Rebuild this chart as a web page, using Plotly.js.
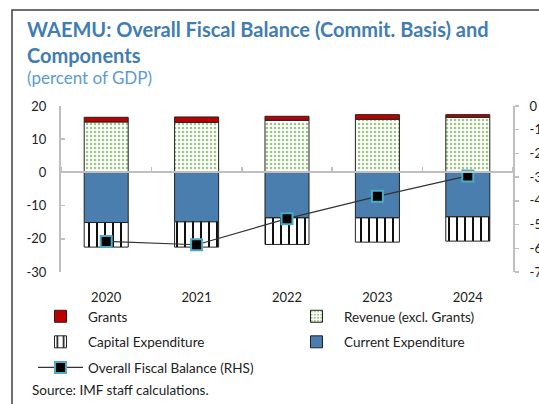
<!DOCTYPE html>
<html><head><meta charset="utf-8">
<script src="https://cdn.plot.ly/plotly-3.0.1.min.js"></script>
<style>html,body{margin:0;padding:0;background:#fff;}#chart{width:539px;height:404px;}</style>
</head><body><div id="chart"></div>
<script>
const years = ['2020','2021','2022','2023','2024'];
const grants = [1.4, 1.6, 1.2, 1.4, 0.8];
const revenue = [15.2, 15.1, 15.7, 16.0, 16.6];
const currentExp = [-15.1, -14.9, -13.7, -13.7, -13.4];
const capitalExp = [-7.4, -7.6, -8.0, -7.3, -7.3];
const balance = [-5.71, -5.85, -4.75, -3.81, -2.95];
const lhsTicks = [20, 10, 0, -10, -20, -30];
const lhsTickLabels = ['20', '10', '0', '-10', '-20', '-30'];
const rhsTicks = [0, -1, -2, -3, -4, -5, -6, -7];
const rhsTickLabels = ['0', '-1', '-2', '-3', '-4', '-5', '-6', '-7'];

const FONT = 'Lato, "Open Sans", sans-serif';
const traces = [
  {type:'bar', name:'Revenue (excl. Grants)', x:years, y:revenue, legend:'legend2', legendgroup:'rev', legendrank:1,
   marker:{color:'#ffffff', line:{color:'#222', width:1},
     pattern:{shape:'.', fgcolor:'#9cc77f', bgcolor:'#ffffff', size:4, solidity:0.3, fillmode:'replace'}}},
  {type:'bar', name:'Grants', x:years, y:grants, legend:'legend', legendgroup:'gr', legendrank:1,
   marker:{color:'#c00000', line:{color:'#222', width:1}}},
  {type:'bar', name:'Current Expenditure', x:years, y:currentExp, legend:'legend2', legendgroup:'cur', legendrank:2,
   marker:{color:'#4a7eae', line:{color:'#222', width:1}}},
  {type:'bar', name:'Capital Expenditure', x:years, y:capitalExp, legend:'legend', legendgroup:'cap', legendrank:2,
   marker:{color:'#ffffff', line:{color:'#222', width:1},
     pattern:{shape:'|', fgcolor:'#111', bgcolor:'#ffffff', size:8, solidity:0.25, fillmode:'replace'}}},
  {type:'scatter', mode:'lines+markers', name:'Overall Fiscal Balance (RHS)', x:years, y:balance,
   xaxis:'x2', yaxis:'y2', legend:'legend', legendgroup:'bal', legendrank:3,
   line:{color:'#333', width:1.2},
   marker:{symbol:'square', size:11, color:'#000', line:{color:'#4bacc6', width:2}}}
];

const legendBase = {orientation:'v', xanchor:'left', yanchor:'top', xref:'container', yref:'container',
  itemwidth:45, tracegroupgap:5, font:{family:FONT, size:13.5, color:'#222'}, bgcolor:'rgba(0,0,0,0)',
  traceorder:'grouped'};

const layout = {
  width:539, height:404,
  margin:{l:61, r:26, t:106, b:132, autoexpand:false},
  paper_bgcolor:'#fff', plot_bgcolor:'rgba(0,0,0,0)',
  font:{family:FONT, size:13, color:'#222'},
  barmode:'relative', bargap:0.513,
  showlegend:true,
  xaxis:{type:'category', showline:false, ticks:'', showgrid:false, zeroline:false, automargin:false,
    tickfont:{size:13, color:'#222'}, ticklabelstandoff:16},
  xaxis2:{type:'category', overlaying:'x', anchor:'free', position:0.6, side:'top', automargin:false,
    range:[-0.5,4.5], showline:true, linecolor:'#bfbfbf', linewidth:2,
    ticks:'outside', tickson:'boundaries', ticklen:4, tickcolor:'#bfbfbf', tickwidth:1.5,
    showticklabels:false, showgrid:false, zeroline:false},
  yaxis:{range:[-30,20], tickmode:'array', tickvals:lhsTicks, ticktext:lhsTickLabels,
    showline:true, linecolor:'#bfbfbf', linewidth:2, automargin:false,
    ticks:'inside', ticklen:4, tickcolor:'#bfbfbf', tickwidth:1.5,
    showgrid:false, zeroline:false, tickfont:{size:13, color:'#222'}, ticklabelstandoff:10},
  yaxis2:{range:[-7,0], tickmode:'array', tickvals:rhsTicks, ticktext:rhsTickLabels,
    overlaying:'y', side:'right', anchor:'x', automargin:false,
    showline:true, linecolor:'#bfbfbf', linewidth:2,
    ticks:'outside', ticklen:4, tickcolor:'#bfbfbf', tickwidth:1.5,
    showgrid:false, zeroline:false, tickfont:{size:13, color:'#222'}, ticklabelstandoff:8},
  legend:Object.assign({}, legendBase, {x:33/539, y:1-301/404}),
  legend2:Object.assign({}, legendBase, {x:289/539, y:1-301/404}),
  annotations:[
    {text:'<b>WAEMU: Overall Fiscal Balance (Commit. Basis) and<br>Components</b>', xref:'paper', yref:'paper',
     x:-0.0796, y:1.548, xanchor:'left', yanchor:'top', align:'left', showarrow:false,
     font:{family:FONT, size:20, color:'#3f7db3'}},
    {text:'(percent of GDP)', xref:'paper', yref:'paper', x:-0.0796, y:1.172, xanchor:'left', yanchor:'middle',
     showarrow:false, font:{family:FONT, size:17, color:'#5b9bd5'}},
    {text:'Source: IMF staff calculations.', xref:'paper', yref:'paper', x:-0.0686, y:-0.711, xanchor:'left', yanchor:'middle',
     showarrow:false, font:{family:FONT, size:13.5, color:'#222'}}
  ],
  shapes:[
    {type:'rect', xref:'paper', yref:'paper', x0:-0.1084, x1:1.08, y0:-0.85, y1:1.578,
     line:{color:'#404040', width:1.5}, fillcolor:'rgba(0,0,0,0)', layer:'above'}
  ]
};
Plotly.newPlot('chart', traces, layout, {displayModeBar:false, staticPlot:true});
</script></body></html>
